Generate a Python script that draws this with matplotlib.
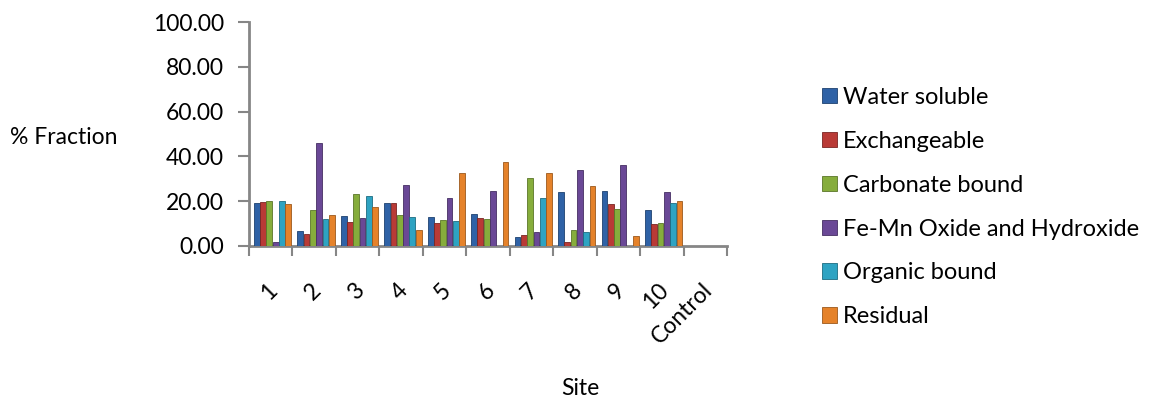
import matplotlib
matplotlib.use('Agg')
import matplotlib.pyplot as plt
import matplotlib.transforms as mtransforms
import numpy as np

plt.rcParams['font.family'] = ['Lato', 'DejaVu Sans']

sites = ['1', '2', '3', '4', '5', '6', '7', '8', '9', '10', 'Control']
fractions = ['Water soluble', 'Exchangeable', 'Carbonate bound',
             'Fe-Mn Oxide and Hydroxide', 'Organic bound', 'Residual']

water_soluble = [19.0, 6.8, 13.3, 19.1, 12.9, 14.4, 4.1, 24.1, 24.6, 16.0, 0]
exchangeable  = [19.6, 5.2, 10.8, 19.1, 10.4, 12.4, 5.0, 1.5, 18.7, 9.8, 0]
carbonate     = [20.1, 16.0, 23.3, 13.9, 11.4, 11.9, 30.5, 7.0, 16.4, 10.4, 0]
fe_mn         = [1.9, 46.1, 12.4, 27.0, 21.2, 24.3, 6.1, 34.1, 36.0, 23.9, 0]
organic       = [20.0, 12.0, 22.5, 13.0, 11.1, 0, 21.6, 6.4, 0, 19.3, 0]
residual      = [18.8, 13.8, 17.5, 7.2, 32.6, 37.3, 32.6, 26.8, 4.4, 20.1, 0]

series = [water_soluble, exchangeable, carbonate, fe_mn, organic, residual]
colors = ['#2F62A6', '#B93A36', '#86AD3C', '#6A4896', '#2EA3C2', '#E5822A']
edges = ['#1E416F', '#7A2523', '#5A7628', '#452F63', '#1D6C81', '#9C581C']

fig = plt.figure(figsize=(11.61, 4.03), dpi=100)
ax = fig.add_axes([0.2145, 0.39, 0.4118, 0.555])

x = np.arange(len(sites))
w = 0.145
for i, vals in enumerate(series):
    ax.bar(x + (i - 2.5) * w + 0.04, vals, width=w * 0.92, color=colors[i],
           edgecolor=edges[i], linewidth=0.6, label=fractions[i], zorder=3)

ax.set_xlim(-0.5, len(sites) - 0.5)
ax.set_ylim(0, 100)
ax.set_yticks(np.arange(0, 101, 20))
ax.set_yticklabels(['%.2f' % v for v in np.arange(0, 101, 20)], fontsize=16.5)
ax.set_xticks(x)
ax.set_xticklabels(sites, fontsize=16.5, rotation=45, ha='right',
                   rotation_mode='anchor')
ax.set_xticks(np.arange(-0.5, len(sites), 1), minor=True)
ax.tick_params(axis='x', which='major', length=0, pad=24)
ax.tick_params(axis='x', which='minor', length=7, width=1.5, color='#868686')
ax.tick_params(axis='y', length=8, width=1.5, color='#868686', pad=10)

# nudge the rotated site labels a little left
shift = mtransforms.ScaledTranslation(-4 / 100, 0, fig.dpi_scale_trans)
for lab in ax.get_xticklabels():
    lab.set_transform(lab.get_transform() + shift)

for s in ['top', 'right']:
    ax.spines[s].set_visible(False)
for s in ['left', 'bottom']:
    ax.spines[s].set_color('#868686')
    ax.spines[s].set_linewidth(2)

fig.text(0.009, 0.66, '% Fraction', fontsize=16.5, va='center', ha='left')
fig.text(0.5, 0.035, 'Site', fontsize=16.5, va='center', ha='center')

leg = ax.legend(loc='upper left', bbox_to_anchor=(0.7, 0.808),
                bbox_transform=fig.transFigure, frameon=False, fontsize=17,
                handlelength=0.62, handleheight=0.62, handletextpad=0.25,
                labelspacing=0.97, borderaxespad=0)

fig.savefig('out.png', dpi=100)
